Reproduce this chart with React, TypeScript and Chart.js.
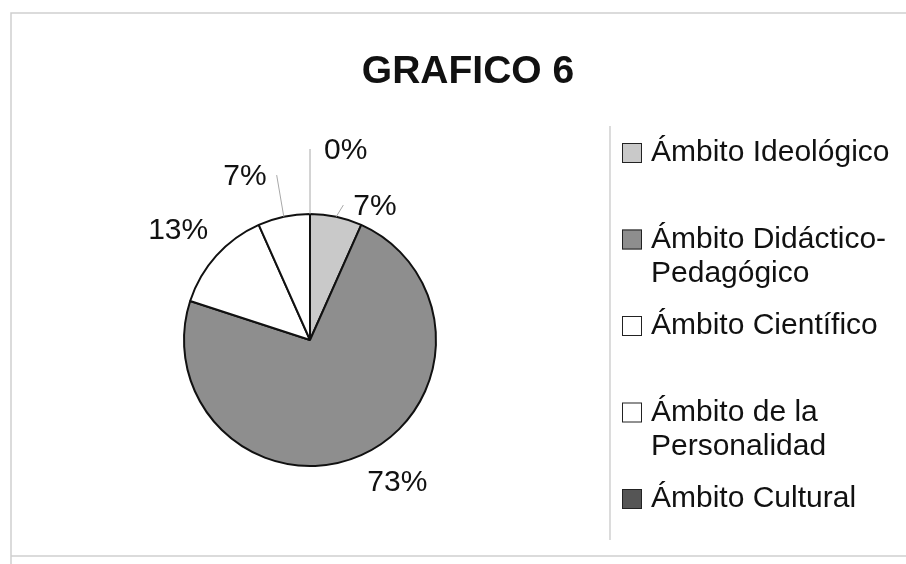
import React, { useEffect, useRef } from "react";
import { Chart, registerables } from "chart.js";

Chart.register(...registerables);

const TITLE = "GRAFICO 6";
const CATEGORIES = [
  "Ámbito Ideológico",
  "Ámbito Didáctico-Pedagógico",
  "Ámbito Científico",
  "Ámbito de la Personalidad",
  "Ámbito Cultural",
];
const COUNTS = [1, 11, 2, 1, 0];

const SLICE_COLORS = ["#c9c9c9", "#8e8e8e", "#ffffff", "#ffffff", "#555555"];
const FONT = '"Liberation Sans", Arial, sans-serif';
// label nudges (relative to default outside placement) to avoid overlap
const LABEL_SHIFT: [number, number][] = [
  [14, 17],
  [0, 2],
  [3, -3],
  [-14, -13],
  [14, -36],
];

function wrapText(ctx: CanvasRenderingContext2D, text: string, maxW: number): string[] {
  const pieces = text.split(/(?<=[ -])/);
  const lines: string[] = [];
  let line = "";
  for (const p of pieces) {
    const cand = line + p;
    if (line && ctx.measureText(cand.trimEnd()).width > maxW) {
      lines.push(line.trimEnd());
      line = p;
    } else {
      line = cand;
    }
  }
  if (line) lines.push(line.trimEnd());
  return lines;
}

const overlayPlugin = {
  id: "overlay",
  afterDraw(chart: any) {
    const ctx: CanvasRenderingContext2D = chart.ctx;
    const meta = chart.getDatasetMeta(0);
    const data = chart.data.datasets[0].data as number[];
    const total = data.reduce((a, b) => a + b, 0);
    ctx.save();

    // outer frame
    ctx.strokeStyle = "#cfcfcf";
    ctx.lineWidth = 1.5;
    ctx.beginPath();
    ctx.moveTo(11, 564);
    ctx.lineTo(11, 13);
    ctx.lineTo(906, 13);
    ctx.stroke();
    ctx.beginPath();
    ctx.moveTo(11, 556);
    ctx.lineTo(906, 556);
    ctx.stroke();

    // legend left border
    ctx.strokeStyle = "#c4c4c4";
    ctx.lineWidth = 1.2;
    ctx.beginPath();
    ctx.moveTo(610, 126);
    ctx.lineTo(610, 540);
    ctx.stroke();

    // title
    ctx.fillStyle = "#111";
    ctx.font = `bold 39px ${FONT}`;
    ctx.textAlign = "center";
    ctx.textBaseline = "alphabetic";
    ctx.fillText(TITLE, 468, 83);

    // percentage labels
    ctx.font = `30px ${FONT}`;
    meta.data.forEach((arc: any, i: number) => {
      const { x, y, startAngle, endAngle, outerRadius } = arc.getProps(
        ["x", "y", "startAngle", "endAngle", "outerRadius"],
        true
      );
      const mid = (startAngle + endAngle) / 2;
      const cx = Math.cos(mid);
      const cy = Math.sin(mid);
      const d = outerRadius + 15;
      const ax = x + cx * d;
      const ay = y + cy * d;
      const text = Math.round((data[i] / total) * 100) + "%";
      const w = ctx.measureText(text).width;
      const h = 24;
      const sx = cx >= -1e-6 ? 1 : -1;
      const sy = cy > 1e-6 ? 1 : -1;
      const [dx, dy] = LABEL_SHIFT[i] || [0, 0];
      const lx = ax + (sx * w) / 2 + dx;
      const ly = ay + (sy * h) / 2 + dy;
      if (Math.hypot(dx, dy) > 8) {
        const px = x + cx * outerRadius;
        const py = y + cy * outerRadius;
        let ex = lx > px ? lx - w / 2 - 10 : lx + w / 2 + 10;
        if (Math.abs(cx) < 0.05) ex = px;
        ctx.strokeStyle = "#a8a8a8";
        ctx.lineWidth = 1;
        ctx.beginPath();
        ctx.moveTo(px, py);
        ctx.lineTo(ex, ly - 2);
        ctx.stroke();
      }
      ctx.fillStyle = "#111";
      ctx.textAlign = "center";
      ctx.textBaseline = "middle";
      ctx.fillText(text, lx, ly);
    });

    // legend
    const y0 = 153;
    const step = 86.5;
    const lineH = 34;
    ctx.textAlign = "left";
    ctx.textBaseline = "middle";
    ctx.font = `30px ${FONT}`;
    (chart.data.labels as string[]).forEach((label, i) => {
      const yc = y0 + i * step;
      ctx.fillStyle = SLICE_COLORS[i];
      ctx.fillRect(622, yc - 10, 20, 20);
      ctx.strokeStyle = "#222";
      ctx.lineWidth = 1;
      ctx.strokeRect(622.5, yc - 9.5, 19, 19);
      ctx.fillStyle = "#111";
      const lines = wrapText(ctx, label, 250);
      lines.forEach((ln, j) => ctx.fillText(ln, 651, yc + j * lineH));
    });

    ctx.restore();
  },
};

export default function App() {
  const canvasRef = useRef<HTMLCanvasElement | null>(null);

  useEffect(() => {
    if (!canvasRef.current) return;
    const chart = new Chart(canvasRef.current, {
      type: "pie",
      data: {
        labels: CATEGORIES,
        datasets: [
          {
            data: COUNTS,
            backgroundColor: SLICE_COLORS,
            borderColor: "#111",
            borderWidth: 2,
          },
        ],
      },
      options: {
        responsive: false,
        animation: false,
        layout: { padding: { left: 183, right: 469, top: 213, bottom: 97 } },
        plugins: {
          legend: { display: false },
          title: { display: false },
          tooltip: { enabled: false },
        },
      },
      plugins: [overlayPlugin],
    });
    return () => chart.destroy();
  }, []);

  return (
    <div style={{ position: "fixed", left: 0, top: 0, width: 906, height: 564, background: "#fff" }}>
      <canvas ref={canvasRef} width={906} height={564} style={{ display: "block" }} />
    </div>
  );
}
